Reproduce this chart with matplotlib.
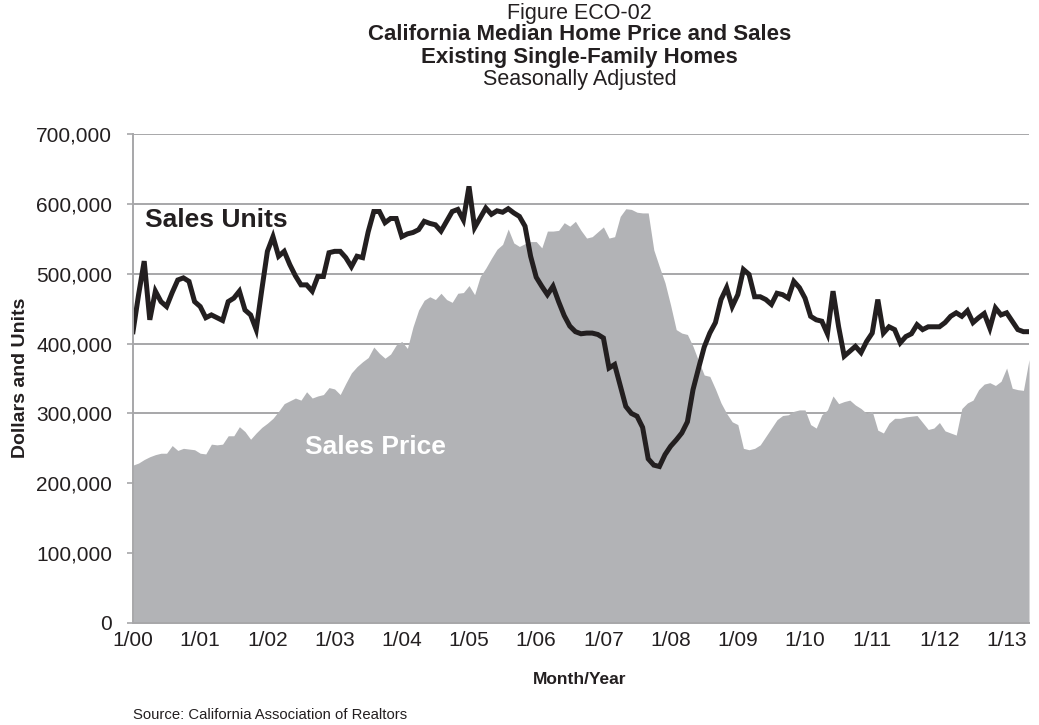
import numpy as np
import matplotlib
matplotlib.use("Agg")
import matplotlib.pyplot as plt

plt.rcParams['font.family'] = ['Liberation Sans', 'DejaVu Sans']

# monthly, Jan 2000 .. May 2013 (thousands)
sales_units = [
    417, 470, 518, 434, 475, 460, 453, 473, 491, 494, 489, 460,
    453, 437, 441, 437, 433, 460, 465, 475, 448, 441, 420, 477,
    532, 553, 525, 532, 513, 497, 484, 484, 475, 496, 496, 530,
    532, 532, 523, 510, 525, 523, 560, 589, 589, 573, 579, 579,
    553, 557, 559, 563, 575, 572, 570, 561, 575, 589, 592, 577,
    625, 566, 580, 594, 585, 590, 588, 593, 587, 582, 568, 525,
    495, 482, 470, 482, 460, 440, 425, 417, 414, 415, 415, 413,
    408, 365, 370, 340, 310, 300, 296, 280, 235, 226, 224, 241,
    253, 262, 272, 288, 334, 365, 395, 415, 430, 463, 480, 453,
    470, 506, 499, 467, 467, 463, 456, 472, 470, 465, 489, 480,
    465, 439, 434, 432, 414, 475, 424, 382, 389, 396, 387, 403,
    415, 463, 415, 424, 420, 401, 410, 414, 427, 420, 424, 424,
    424, 430, 439, 444, 439, 447, 430, 437, 443, 422, 451, 441,
    444, 432, 420, 417, 417,
]

sales_price = [
    226, 229, 234, 238, 241, 243, 243, 254, 247, 250, 249, 248,
    243, 242, 256, 255, 256, 268, 268, 281, 274, 263, 272, 280,
    286, 293, 303, 314, 318, 322, 319, 331, 322, 325, 327, 337,
    335, 327, 343, 358, 367, 374, 380, 395, 386, 379, 385, 398,
    403, 393, 424, 448, 462, 467, 463, 472, 463, 459, 472, 473,
    483, 470, 496, 508, 522, 535, 542, 564, 544, 539, 543, 546,
    546, 537, 561, 561, 562, 573, 568, 575, 562, 551, 553, 560,
    567, 551, 553, 582, 593, 592, 588, 587, 587, 534, 510, 487,
    455, 420, 415, 413, 396, 375, 355, 353, 335, 315, 300, 288,
    284, 250, 248, 250, 255, 267, 279, 291, 297, 298, 303, 305,
    305, 284, 279, 298, 305, 325, 314, 317, 319, 312, 307, 300,
    303, 276, 272, 286, 293, 293, 295, 296, 297, 287, 277, 279,
    287, 275, 272, 269, 307, 315, 319, 334, 342, 344, 340, 346,
    365, 336, 334, 333, 377,
]

tick_labels = ["1/00", "1/01", "1/02", "1/03", "1/04", "1/05", "1/06",
               "1/07", "1/08", "1/09", "1/10", "1/11", "1/12", "1/13"]

units = np.array(sales_units) * 1000
price = np.array(sales_price) * 1000
x = np.arange(len(units))

ink = '#231F20'
grid_col = '#A7A7A9'

fig = plt.figure(figsize=(10.39, 7.25), dpi=100)
ax = fig.add_axes([0.128, 0.1407, 0.8624, 0.6745])

ax.fill_between(x, 0, price, color='#B2B3B6', linewidth=0, zorder=2)
ax.plot(x, units, color=ink, linewidth=3.6, zorder=3, solid_joinstyle='miter')

ax.set_xlim(0, len(x) - 1)
ax.set_ylim(0, 700000)
ax.set_yticks(np.arange(0, 700001, 100000))
ax.set_yticklabels([f"{v:,}" for v in range(0, 700001, 100000)])
ax.set_xticks(np.arange(0, len(x), 12))
ax.set_xticklabels(tick_labels)

ax.grid(axis='y', color=grid_col, linewidth=1.4, zorder=1)
ax.set_axisbelow(True)
for s in ['top', 'right']:
    ax.spines[s].set_visible(False)
for s in ['left', 'bottom']:
    ax.spines[s].set_color(grid_col)
    ax.spines[s].set_linewidth(1.4)
    ax.spines[s].set_zorder(4)

ax.tick_params(axis='y', length=4, color=grid_col, width=1.2, pad=11,
               labelsize=15, labelcolor=ink)
ax.tick_params(axis='x', length=0, pad=6, labelsize=15, labelcolor=ink)

fig.text(21 / 1039, 1 - 378 / 725, "Dollars and Units", fontsize=14,
         fontweight='bold', color=ink, rotation=90, ha='center', va='center')
fig.text(580 / 1039, 1 - 680 / 725, "Month/Year", fontsize=12.5,
         fontweight='bold', color=ink, ha='center', va='center')

ax.text(2.1, 577000, "Sales Units", fontsize=19, fontweight='bold',
        color=ink, va='center', ha='left', zorder=5)
ax.text(30.7, 252000, "Sales Price", fontsize=19, fontweight='bold',
        color='white', va='center', ha='left', zorder=5)

fig.text(0.558, 1 - 13 / 725, "Figure ECO-02", fontsize=15.5, ha='center',
         va='center', color=ink)
fig.text(0.558, 1 - 35 / 725, "California Median Home Price and Sales",
         fontsize=16, fontweight='bold', ha='center', va='center', color=ink)
fig.text(0.558, 1 - 57 / 725, "Existing Single-Family Homes", fontsize=16,
         fontweight='bold', ha='center', va='center', color=ink)
fig.text(0.558, 1 - 79 / 725, "Seasonally Adjusted", fontsize=15.5,
         ha='center', va='center', color=ink)
fig.text(0.128, 1 - 715 / 725, "Source: California Association of Realtors",
         fontsize=10.7, ha='left', va='center', color=ink)

plt.savefig("out.png", dpi=100)
